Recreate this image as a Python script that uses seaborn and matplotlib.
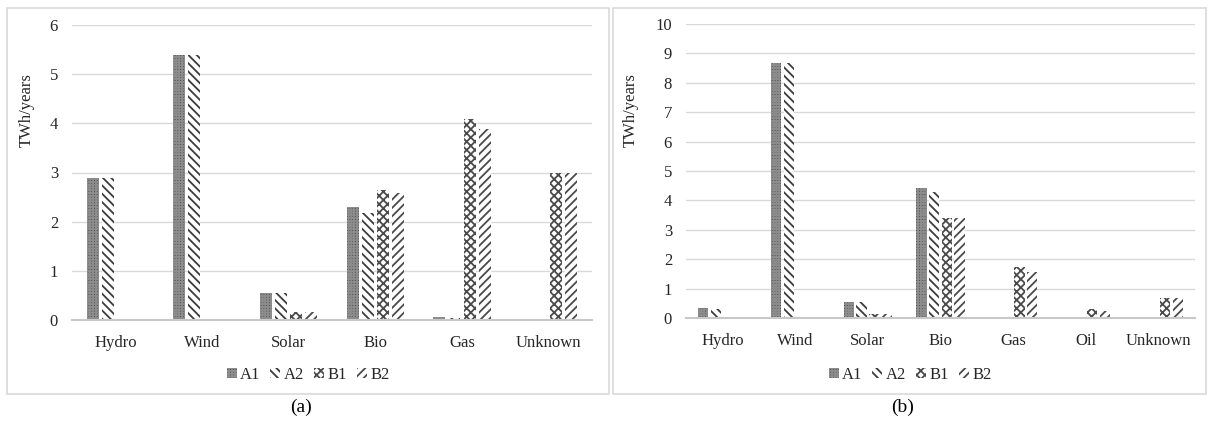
import numpy as np
import pandas as pd
import seaborn as sns
import matplotlib.pyplot as plt
from matplotlib.patches import Patch, Rectangle

# panel (a)
cats_a = ["Hydro", "Wind", "Solar", "Bio", "Gas", "Unknown"]
a1_a = [2.88, 5.38, 0.55, 2.29, 0.06, 0]
a2_a = [2.88, 5.38, 0.55, 2.17, 0.04, 0]
b1_a = [0, 0, 0.17, 2.65, 4.08, 2.98]
b2_a = [0, 0, 0.17, 2.58, 3.89, 2.98]

# panel (b)
cats_b = ["Hydro", "Wind", "Solar", "Bio", "Gas", "Oil", "Unknown"]
a1_b = [0.34, 8.69, 0.55, 4.42, 0, 0, 0]
a2_b = [0.29, 8.69, 0.53, 4.30, 0, 0, 0]
b1_b = [0, 0, 0.15, 3.40, 1.75, 0.32, 0.68]
b2_b = [0, 0, 0.13, 3.40, 1.58, 0.23, 0.68]

series = ["A1", "A2", "B1", "B2"]
hatches = {"A1": "++++++", "A2": "\\\\\\\\", "B1": "xxxx", "B2": "////"}
faces = {"A1": "#444444", "A2": "white", "B1": "white", "B2": "white"}
hcolor = {"A1": "#8c8c8c", "A2": "#3c3c3c", "B1": "#4a4a4a", "B2": "#4a4a4a"}

sns.set_style("white")
plt.rcParams["font.family"] = ["Liberation Serif", "DejaVu Serif"]
plt.rcParams["hatch.linewidth"] = 1.3
txt = "#262626"


def long_df(cats, vals):
    rows = []
    for s, v in zip(series, vals):
        for c, y in zip(cats, v):
            rows.append({"cat": c, "series": s, "value": y})
    return pd.DataFrame(rows)


def draw(ax, cats, vals, ymax):
    df = long_df(cats, vals)
    sns.barplot(data=df, x="cat", y="value", hue="series", order=cats,
                hue_order=series, width=0.7, gap=0.2, legend=False, ax=ax)
    n = len(cats)
    for i, p in enumerate(ax.patches):
        s = series[i // n]
        p.set_facecolor(faces[s])
        p.set_edgecolor(hcolor[s])
        p.set_linewidth(0)
        p.set_hatch(hatches[s])
    ax.set_ylim(0, ymax)
    ax.set_yticks(range(0, ymax + 1))
    ax.set_xlim(-0.5, n - 0.5)
    ax.grid(axis="y", color="#d9d9d9", lw=1)
    ax.set_axisbelow(True)
    for sp in ["top", "right", "left"]:
        ax.spines[sp].set_visible(False)
    ax.spines["bottom"].set_color("#c8c8c8")
    ax.spines["bottom"].set_linewidth(1.5)
    ax.tick_params(length=0, labelsize=12, colors=txt)
    ax.tick_params(axis="x", pad=11)
    ax.tick_params(axis="y", pad=10)
    ax.set_xlabel("")
    ax.set_ylabel("TWh/years", fontsize=12, color=txt)


fig = plt.figure(figsize=(12.12, 4.22), dpi=100)

ax1 = fig.add_axes([72 / 1212, 1 - 320 / 422, 520 / 1212, 295 / 422])
draw(ax1, cats_a, [a1_a, a2_a, b1_a, b2_a], 6)
ax1.yaxis.set_label_coords(-0.072, 0.71)

ax2 = fig.add_axes([686 / 1212, 1 - 318 / 422, 509 / 1212, 294 / 422])
draw(ax2, cats_b, [a1_b, a2_b, b1_b, b2_b], 10)
ax2.yaxis.set_label_coords(-0.092, 0.707)

# panel frames
for x0, x1 in [(7, 609), (613, 1206)]:
    fig.patches.append(Rectangle((x0 / 1212, 1 - 394 / 422), (x1 - x0) / 1212, 386 / 422,
                                 transform=fig.transFigure, fill=False,
                                 edgecolor="#d9d9d9", lw=1.2))

handles = [Patch(facecolor=faces[s], edgecolor=hcolor[s], hatch=hatches[s], lw=0, label=s)
           for s in series]
for xc, lab in [(308, "(a)"), (910, "(b)")]:
    fig.legend(handles=handles, loc="center", bbox_to_anchor=(xc / 1212, 1 - 375 / 422),
               ncol=4, frameon=False, fontsize=12, handlelength=0.6, handleheight=0.6,
               handletextpad=0.2, columnspacing=0.6, labelcolor=txt)
    fig.text(xc / 1212 - 0.006, 1 - 407 / 422, lab, ha="center", va="center", fontsize=14, color="black")

fig.savefig("out.png", dpi=100)
